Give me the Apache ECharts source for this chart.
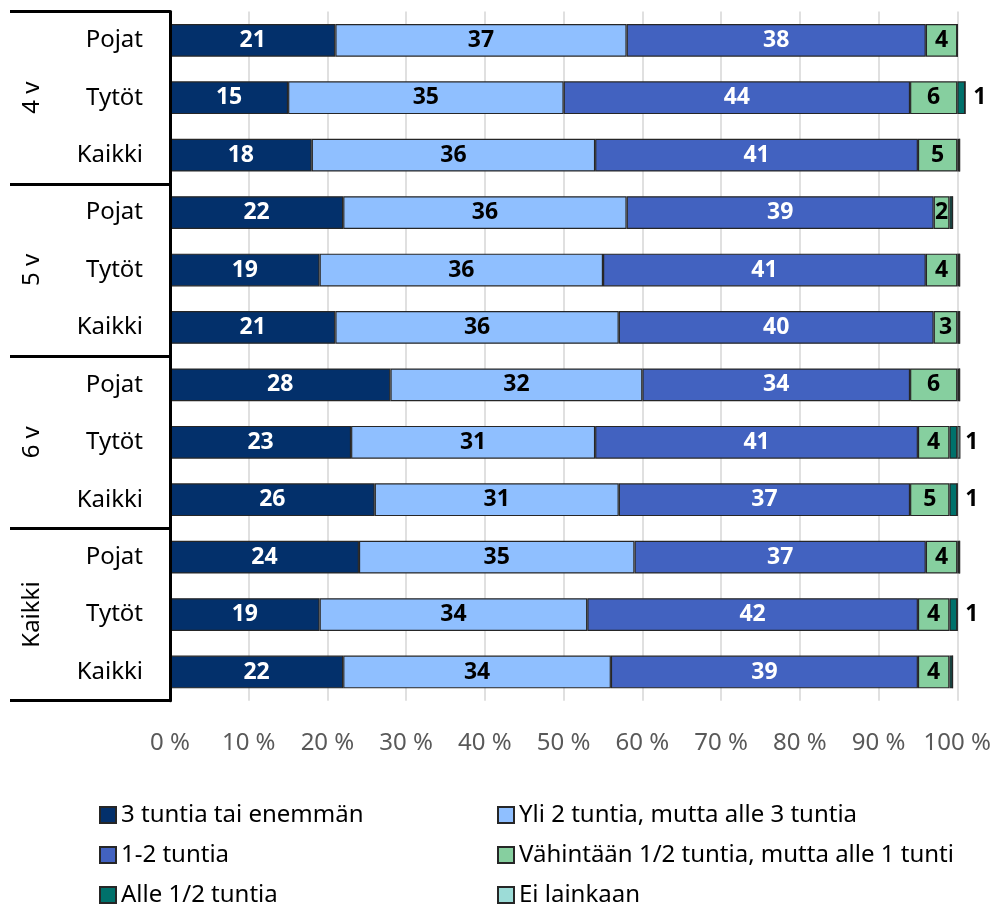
<!DOCTYPE html>
<html>
<head>
<meta charset="utf-8">
<script src="https://cdn.jsdelivr.net/npm/echarts@6/dist/echarts.min.js"></script>
<style>
  html, body { margin: 0; padding: 0; background: #ffffff; }
  #chart { width: 995px; height: 906px; }
</style>
</head>
<body>
<div id="chart"></div>
<script>
// Rows, top to bottom
const rowLabels = ['Pojat', 'Tytöt', 'Kaikki', 'Pojat', 'Tytöt', 'Kaikki',
                   'Pojat', 'Tytöt', 'Kaikki', 'Pojat', 'Tytöt', 'Kaikki'];
const groupLabels = ['4 v', '5 v', '6 v', 'Kaikki'];
const xTicks = [0, 10, 20, 30, 40, 50, 60, 70, 80, 90, 100];

// Share of children (%) per daily screen-time class
const seriesNames = ['3 tuntia tai enemmän', 'Yli 2 tuntia, mutta alle 3 tuntia', '1-2 tuntia',
                     'Vähintään 1/2 tuntia, mutta alle 1 tunti', 'Alle 1/2 tuntia', 'Ei lainkaan'];
const over3h    = [21, 15, 18, 22, 19, 21, 28, 23, 26, 24, 19, 22];
const from2to3h = [37, 35, 36, 36, 36, 36, 32, 31, 31, 35, 34, 34];
const from1to2h = [38, 44, 41, 39, 41, 40, 34, 41, 37, 37, 42, 39];
const halfTo1h  = [4, 6, 5, 2, 4, 3, 6, 4, 5, 4, 4, 4];
const underHalf = [0, 1, 0.3, 0.4, 0.3, 0.3, 0.3, 1, 1, 0.3, 1, 0.4];
const none      = [0, 0, 0, 0, 0, 0, 0, 0.4, 0, 0, 0, 0];

const colors = ['#03306b', '#8fbfff', '#4262c0', '#86cf9f', '#00716b', '#9cdcd7'];
const labelColors = ['#ffffff', '#000000', '#ffffff', '#000000', '#000000', '#000000'];
const values = [over3h, from2to3h, from1to2h, halfTo1h, underHalf, none];

const FONT = 'Noto Sans';

const series = seriesNames.map((name, i) => ({
  name: name,
  type: 'bar',
  stack: 'total',
  yAxisIndex: 0,
  barCategoryGap: '43%',
  clip: false,
  data: values[i],
  itemStyle: { color: colors[i], borderColor: '#262626', borderWidth: 1.2 },
  label: {
    show: i < 5,
    position: i === 4 ? 'right' : 'inside',
    distance: 8,
    color: labelColors[i],
    fontFamily: FONT,
    fontWeight: 'bold',
    fontSize: 23,
    formatter: p => (p.value >= 1 ? String(p.value) : '')
  },
  emphasis: { disabled: true }
}));

// Legend: two columns of three entries each
const legendCols = [99, 497];
const legendRows = [803, 843, 883];
const legends = seriesNames.map((name, i) => ({
  data: [name],
  left: legendCols[i % 2],
  top: legendRows[Math.floor(i / 2)],
  padding: 0,
  itemWidth: 16, itemHeight: 16, icon: 'rect',
  selectedMode: false,
  textStyle: { fontFamily: FONT, fontSize: 24, color: '#000000' }
}));

const chart = echarts.init(document.getElementById('chart'), null, { renderer: 'canvas' });
chart.setOption({
  backgroundColor: '#ffffff',
  animation: false,
  textStyle: { fontFamily: FONT },
  grid: { left: 170, right: 37.7, top: 11.6, bottom: 205.3, containLabel: false },
  legend: legends,
  xAxis: {
    type: 'value',
    min: xTicks[0], max: xTicks[xTicks.length - 1], interval: 10,
    axisLine: { show: false },
    axisTick: { show: false },
    splitLine: { show: true, lineStyle: { color: '#d6d6d6', width: 1.5 } },
    axisLabel: { formatter: '{value} %', color: '#595959', fontFamily: FONT, fontSize: 24, margin: 30 }
  },
  yAxis: [
    {
      type: 'category', inverse: true, position: 'left',
      data: rowLabels,
      axisLine: { show: false },
      axisTick: { show: false },
      axisLabel: { color: '#000000', fontFamily: FONT, fontSize: 24, margin: 27 }
    },
    {
      type: 'category', inverse: true, position: 'left',
      data: groupLabels,
      axisLine: { show: true, lineStyle: { color: '#000000', width: 3 } },
      axisTick: { show: true, length: 160, interval: 0, lineStyle: { color: '#000000', width: 3 } },
      axisLabel: { rotate: 90, color: '#000000', fontFamily: FONT, fontSize: 24, margin: 126, interval: 0 },
      z: 5
    }
  ],
  series: series
});
</script>
</body>
</html>
